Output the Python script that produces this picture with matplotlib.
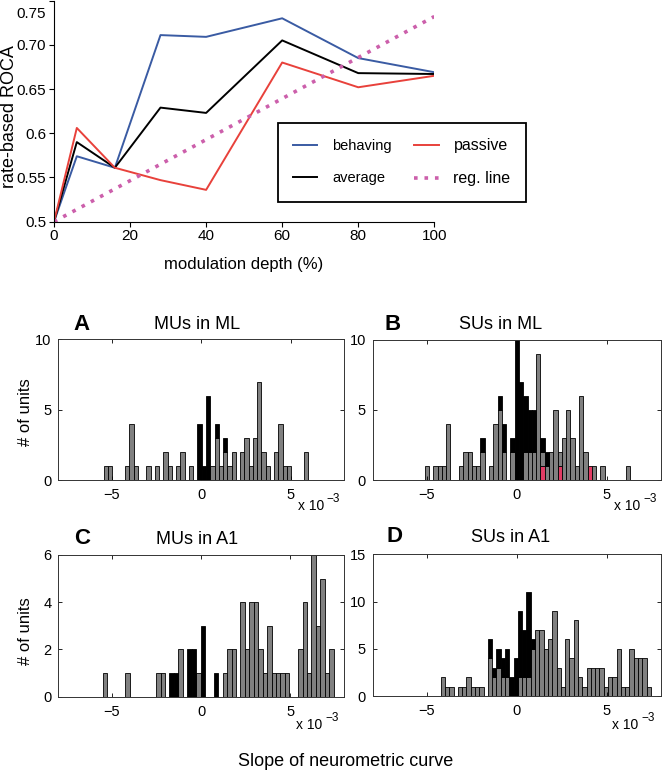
import numpy as np
import matplotlib
matplotlib.use('Agg')
import matplotlib.pyplot as plt

plt.rcParams['font.family'] = ['Liberation Sans', 'DejaVu Sans']

# ---- top panel: ROC area vs modulation depth
depth = [0, 6, 16, 28, 40, 60, 80, 100]
roc_behaving = [0.5, 0.574, 0.561, 0.711, 0.709, 0.730, 0.685, 0.669]
roc_average = [0.5, 0.590, 0.561, 0.629, 0.623, 0.705, 0.668, 0.667]
roc_passive = [0.5, 0.606, 0.561, 0.547, 0.536, 0.680, 0.652, 0.665]
reg_depth = [0, 100]
reg_roc = [0.5, 0.732]

# ---- histograms of neurometric slopes (units of 1e-3), counts per bin
# A: MUs in ML
a_first_edge, a_bin = -5.46, 0.2385
a_gray = [1, 1, 0, 0, 0, 1, 4, 1, 0, 0, 1, 0, 1, 0, 2, 1, 0, 1, 2, 0, 1, 0, 0, 0,
          0, 1, 3, 1, 2, 1, 2, 0, 2, 3, 1, 3, 7, 2, 1, 0, 2, 4, 1, 1, 0, 0, 0, 2]
a_black = [0, 0, 0, 0, 0, 0, 0, 0, 0, 0, 0, 0, 0, 0, 0, 0, 0, 0, 0, 0, 0, 0, 4, 1,
           6, 0, 1, 0, 1, 0, 0, 0, 0, 0, 0, 0, 0, 0, 0, 0, 0, 0, 0, 0, 0, 0, 0, 0]

# B: SUs in ML
b_first_edge, b_bin = -5.117, 0.238
b_red = [0, 0, 0, 0, 0, 0, 0, 0, 0, 0, 0, 0, 0, 0, 0, 0, 0, 0, 0, 0, 0, 0, 0, 0,
         0, 0, 0, 1, 0, 0, 0, 1, 0, 0, 0, 0, 0, 0, 1, 0, 0, 0, 0, 0, 0, 0, 0, 0]
b_gray = [1, 0, 1, 1, 1, 4, 0, 0, 1, 2, 2, 1, 1, 2, 0, 1, 4, 5, 2, 0, 2, 0, 0, 2,
          2, 2, 9, 1, 1, 2, 5, 1, 3, 5, 3, 1, 6, 2, 0, 1, 0, 1, 0, 0, 0, 0, 0, 1]
b_black = [0, 0, 0, 0, 0, 0, 0, 0, 0, 0, 0, 0, 0, 1, 0, 0, 0, 1, 2, 0, 1, 10, 7, 4,
           3, 3, 0, 1, 1, 0, 0, 0, 0, 0, 0, 0, 0, 0, 0, 0, 0, 0, 0, 0, 0, 0, 0, 0]

# C: MUs in A1
c_first_edge, c_bin = -5.5, 0.2485
c_gray = [1, 0, 0, 0, 0, 1, 0, 0, 0, 0, 0, 0, 1, 1, 0, 0, 0, 2, 0, 0, 0, 1, 0, 0,
          0, 0, 0, 1, 2, 2, 0, 4, 2, 4, 4, 2, 1, 3, 1, 1, 1, 1, 0, 0, 2, 4, 1, 6,
          3, 5, 1, 2]
c_black = [0, 0, 0, 0, 0, 0, 0, 0, 0, 0, 0, 0, 0, 0, 0, 1, 1, 0, 0, 2, 2, 0, 3, 0,
           0, 1, 0, 0, 0, 0, 0, 0, 0, 0, 0, 0, 0, 0, 0, 0, 0, 0, 0, 0, 0, 0, 0, 0,
           0, 0, 0, 0]

# D: SUs in A1
d_first_edge, d_bin = -4.23, 0.2382
d_gray = [2, 1, 1, 0, 1, 1, 2, 1, 1, 1, 0, 4, 2, 3, 2, 2, 0, 0, 2, 2, 2, 5, 7, 7,
          5, 6, 9, 3, 1, 6, 4, 8, 2, 1, 3, 3, 3, 3, 1, 2, 2, 5, 1, 1, 5, 4, 4, 4, 1]
d_black = [0, 0, 0, 0, 0, 0, 0, 0, 0, 0, 0, 2, 1, 2, 2, 3, 2, 4, 7, 5, 9, 1, 0, 0,
           0, 0, 0, 0, 0, 0, 0, 0, 0, 0, 0, 0, 0, 0, 0, 0, 0, 0, 0, 0, 0, 0, 0, 0, 0]

W, H = 669, 774
fig = plt.figure(figsize=(W / 100, H / 100), dpi=100)


def px_axes(l, t, r, b):
    return fig.add_axes([l / W, 1 - b / H, (r - l) / W, (b - t) / H])


def ftext(x, y, s, **kw):
    return fig.text(x / W, 1 - y / H, s, **kw)


# ---------------- top panel
blue, red, pink = '#3a5ba3', '#e8413b', '#cc5fab'
ax = px_axes(54, 0.6, 434.3, 221.7)
ax.plot(depth, roc_behaving, color=blue, lw=1.4, label='behaving')
ax.plot(depth, roc_average, color='k', lw=1.4, label='average')
ax.plot(depth, roc_passive, color=red, lw=1.4, label='passive')
ax.plot(reg_depth, reg_roc, color=pink, lw=2.6, ls=(0, (1, 1.9)),
        dash_capstyle='butt', label='reg. line')
ax.set_xlim(0, 100)
ax.set_ylim(0.5, 0.75)
for s in ['top', 'right']:
    ax.spines[s].set_visible(False)
ax.set_xticks([0, 20, 40, 60, 80, 100])
ax.set_yticks([0.5, 0.55, 0.6, 0.65, 0.7, 0.75])
ax.set_yticklabels(['0.5', '0.55', '0.6', '0.65', '0.70', ''])
ax.tick_params(direction='out', length=3.5, width=0.8, labelsize=11, pad=2)
ax.annotate('0.75', xy=(0, 0.75), xycoords=('axes fraction', 'data'),
            xytext=(-5.5, -10), textcoords='offset points',
            ha='right', va='center', fontsize=11)

leg = ax.legend(ncol=2, loc='upper left', bbox_to_anchor=(277.7 / W, 1 - 122.7 / H),
                bbox_transform=fig.transFigure, fontsize=11, frameon=True,
                fancybox=False, edgecolor='k', framealpha=1, handlelength=1.6,
                handletextpad=0.95, columnspacing=1.5, labelspacing=1.2,
                borderpad=1.0, borderaxespad=0)
leg.get_frame().set_linewidth(1.3)
for t, fs in zip(leg.get_texts(), [10.5, 10.5, 11.5, 11.5]):
    t.set_fontsize(fs)

ftext(244, 265, 'modulation depth (%)', ha='center', va='center', fontsize=12)
ftext(10, 117, 'rate-based ROCA', rotation=90, ha='center', va='center', fontsize=13)


# ---------------- histogram panels
def hist_panel(ax, first_edge, bin_w, gray, black, red_counts=None):
    n = len(gray)
    centers = first_edge + bin_w * (np.arange(n) + 0.5)
    base = np.zeros(n)
    layers = []
    if red_counts is not None:
        layers.append((np.array(red_counts), '#e23c64'))
    layers.append((np.array(gray), '#808080'))
    layers.append((np.array(black), 'k'))
    for counts, col in layers:
        m = counts > 0
        ax.bar(centers[m], counts[m], width=bin_w, bottom=base[m], color=col,
               edgecolor='k', linewidth=0.6, align='center')
        base = base + counts
    ax.set_xlim(-8, 8)
    ax.set_xticks([-5, 0, 5])
    ax.set_xticklabels(['\u22125', '0', '5'])
    ax.tick_params(direction='in', top=True, right=True, length=3, width=0.6,
                   labelsize=10.5)
    ax.tick_params(axis='x', pad=6)
    ax.tick_params(axis='y', pad=5)
    for s in ax.spines.values():
        s.set_linewidth(0.7)
        s.set_color('#333333')


axA = px_axes(58.3, 339.3, 344.3, 480)
hist_panel(axA, a_first_edge, a_bin, a_gray, a_black)
axA.set_ylim(0, 10)
axA.set_yticks([0, 5, 10])

axB = px_axes(372.7, 339.5, 661, 480)
hist_panel(axB, b_first_edge, b_bin, b_gray, b_black, b_red)
axB.set_ylim(0, 10)
axB.set_yticks([0, 5, 10])

axC = px_axes(58.3, 555, 344, 696.7)
hist_panel(axC, c_first_edge, c_bin, c_gray, c_black)
axC.set_ylim(0, 6)
axC.set_yticks([0, 2, 4, 6])

axD = px_axes(372.7, 554.3, 661, 696)
hist_panel(axD, d_first_edge, d_bin, d_gray, d_black)
axD.set_ylim(0, 15)
axD.set_yticks([0, 5, 10, 15])

# panel letters and titles
for x, y, s in [(82, 324, 'A'), (392.5, 324, 'B'), (82, 539, 'C'), (394.5, 537, 'D')]:
    ftext(x, y, s, ha='center', va='center', fontsize=16, fontweight='bold')
for x, y, s in [(197.5, 324, 'MUs in ML'), (501, 324, 'SUs in ML'),
                (197, 539, 'MUs in A1'), (511, 537, 'SUs in A1')]:
    ftext(x, y, s, ha='center', va='center', fontsize=13)

# exponent labels
for x, y in [(291.7, 505), (608, 505), (290, 724), (606, 724)]:
    ftext(x + 6, y + 1, 'x 10', ha='left', va='center', fontsize=10)
    ftext(x + 35, y - 6, '\u22123', ha='left', va='center', fontsize=8.5)

ftext(25, 412.5, '# of units', rotation=90, ha='center', va='center', fontsize=12)
ftext(25, 630.8, '# of units', rotation=90, ha='center', va='center', fontsize=12)
ftext(346, 762, 'Slope of neurometric curve', ha='center', va='center', fontsize=13)

fig.savefig('out.png', dpi=100)
